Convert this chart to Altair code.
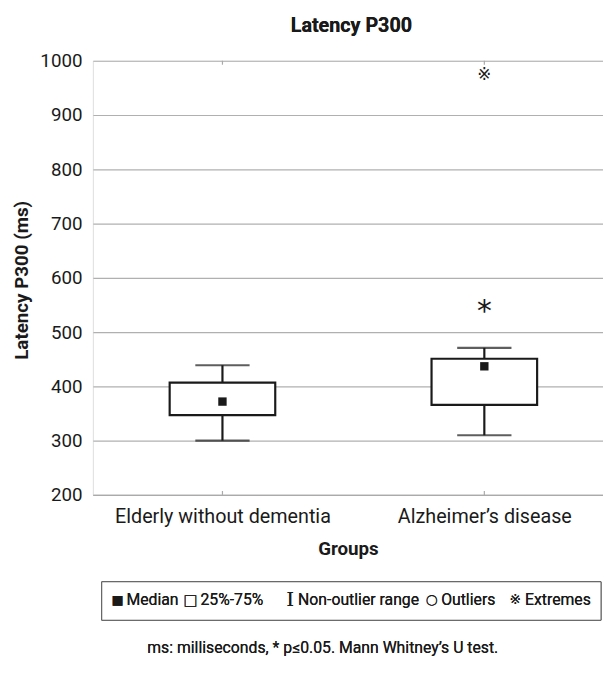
import altair as alt
import pandas as pd

# ---- data ----
groups = ["Elderly without dementia", "Alzheimer\u2019s disease"]
whisker_low = [300, 310]
q1 = [347, 366]
median = [372, 437]
q3 = [407, 451]
whisker_high = [439, 471]

outlier_group = ["Alzheimer\u2019s disease"]
outlier_value = [548]
extreme_group = ["Alzheimer\u2019s disease"]
extreme_value = [973]

y_ticks = [200, 300, 400, 500, 600, 700, 800, 900, 1000]

legend_symbols = ["\u25a0", "\u25a1", "I", "\u25cb", "\u203b"]
legend_labels = ["Median", "25%-75%", "Non-outlier range", "Outliers", "Extremes"]
footnote = "ms: milliseconds, * p\u22640.05. Mann Whitney\u2019s U test."
title_text = "Latency P300"

FONT = "Roboto"
INK = "#1a1a1a"

box_df = pd.DataFrame({
    "group": groups, "lo": whisker_low, "q1": q1, "med": median,
    "q3": q3, "hi": whisker_high,
})
out_df = pd.DataFrame({"group": outlier_group, "value": outlier_value})
ext_df = pd.DataFrame({"group": extreme_group, "value": extreme_value})

xscale = alt.Scale(type="point", domain=groups, padding=0.474, align=0.522)
yscale = alt.Scale(domain=[200, 1000], nice=False, zero=False)


def xenc(**kw):
    return alt.X("group:N", scale=xscale, sort=groups, **kw)


X_main = xenc(axis=alt.Axis(title="Groups", labelAngle=0, ticks=False, domain=True,
                            domainColor="#aaaaaa", domainWidth=1.2, labelLimit=0,
                            labelFontSize=20, labelFont=FONT, labelColor=INK,
                            labelPadding=12, titleFontSize=19, titleFont=FONT,
                            titleFontWeight="bold", titleColor=INK, titlePadding=13,
                            grid=False))

base = alt.Chart(box_df)

whisker = base.mark_rule(color=INK, strokeWidth=2.2).encode(
    x=X_main,
    y=alt.Y("lo:Q", scale=yscale,
            axis=alt.Axis(title="Latency P300 (ms)", values=y_ticks, ticks=False,
                          format="d", domain=False, grid=True, gridColor="#b0b0b0",
                          gridWidth=1.2, labelFontSize=19, labelFont=FONT,
                          labelColor=INK, labelPadding=11, titleFontSize=19,
                          titleFont=FONT, titleFontWeight="bold", titleColor=INK,
                          titleX=-72, titleY=222, titleBaseline="middle",
                          titleAngle=270)),
    y2="hi:Q",
)

caps_lo = base.mark_tick(color=INK, size=55, thickness=2.2, orient="horizontal").encode(
    x=xenc(), y=alt.Y("lo:Q", scale=yscale))
caps_hi = base.mark_tick(color=INK, size=55, thickness=2.2, orient="horizontal").encode(
    x=xenc(), y=alt.Y("hi:Q", scale=yscale))

box = base.mark_bar(size=107, fill="white", stroke=INK, strokeWidth=2.2).encode(
    x=xenc(), y=alt.Y("q1:Q", scale=yscale), y2="q3:Q")

med = base.mark_square(size=72, color=INK, opacity=1).encode(
    x=xenc(), y=alt.Y("med:Q", scale=yscale))

outl = alt.Chart(out_df).mark_text(text="*", fontSize=30, font="DejaVu Sans", color=INK,
                                   baseline="middle", dy=6).encode(
    x=xenc(), y=alt.Y("value:Q", scale=yscale))

ext = alt.Chart(ext_df).mark_text(text="\u203b", fontSize=17, font="DejaVu Sans", color=INK,
                                  baseline="middle").encode(
    x=xenc(), y=alt.Y("value:Q", scale=yscale))

top_ticks = base.mark_rule(color="#aaaaaa", strokeWidth=1.2).encode(
    x=xenc(), y=alt.value(0), y2=alt.value(4))
bot_ticks = base.mark_rule(color="#aaaaaa", strokeWidth=1.2).encode(
    x=xenc(), y=alt.value(436), y2=alt.value(440))

title = base.mark_text(text=title_text, fontSize=20, font=FONT, fontWeight="bold",
                       color=INK, align="center", baseline="middle").encode(
    x=alt.value(262), y=alt.value(-35))

# legend box drawn below the plot
leg_box = base.mark_rect(fill="white", stroke="#555555", strokeWidth=1, clip=False).encode(
    x=alt.value(9), x2=alt.value(515), y=alt.value(528), y2=alt.value(567))

sym_x = [25, 99, 200, 343.5, 428]
lab_x = [34, 109, 208, 353, 438]
sym_size = [13, 15, 19, 14, 14]
sym_font = ["DejaVu Sans", "DejaVu Sans", "DejaVu Serif", "DejaVu Sans", "DejaVu Sans"]
leg_layers = []
for s, l, sx, lx, ss, sf in zip(legend_symbols, legend_labels, sym_x, lab_x, sym_size, sym_font):
    leg_layers.append(base.mark_text(text=s, fontSize=ss, font=sf, color=INK,
                                     align="center", baseline="middle").encode(
        x=alt.value(sx), y=alt.value(547)))
    leg_layers.append(base.mark_text(text=l, fontSize=16, font=FONT, color=INK,
                                     align="left", baseline="middle").encode(
        x=alt.value(lx), y=alt.value(547)))

note = base.mark_text(text=footnote, fontSize=16, font=FONT, color=INK,
                      align="center", baseline="middle").encode(
    x=alt.value(233), y=alt.value(595))

chart = alt.layer(
    whisker, caps_lo, caps_hi, box, med, outl, ext, top_ticks, bot_ticks, title,
    leg_box, *leg_layers, note,
).properties(
    width=517, height=440,
    autosize=alt.AutoSizeParams(type="none"),
    padding={"left": 86, "top": 49, "right": 0, "bottom": 177},
).configure_view(stroke=None).configure(background="white")

chart.save("out.html", embed_options={"renderer": "svg", "actions": False})
